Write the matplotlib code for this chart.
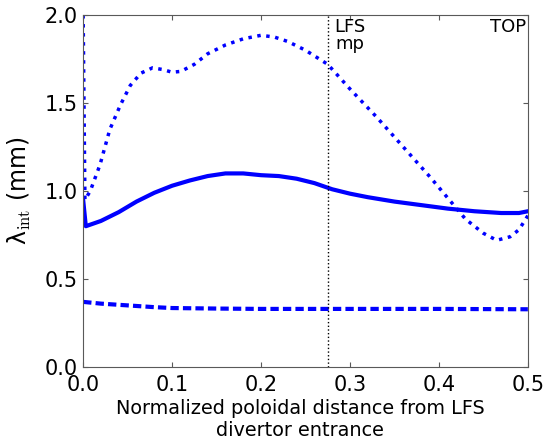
import numpy as np
import matplotlib
matplotlib.use('Agg')
import matplotlib.pyplot as plt

plt.rcParams['mathtext.fontset'] = 'cm'

# values
solid_x = [0.0, 0.0, 0.003, 0.02, 0.04, 0.06, 0.08, 0.10, 0.12, 0.14, 0.16, 0.18, 0.20,
           0.22, 0.24, 0.26, 0.28, 0.30, 0.32, 0.35, 0.38, 0.41, 0.44, 0.47, 0.49, 0.5]
solid_y = [0.95, 0.95, 0.80, 0.83, 0.88, 0.94, 0.99, 1.03, 1.06, 1.085, 1.10, 1.10, 1.09,
           1.085, 1.07, 1.045, 1.01, 0.985, 0.965, 0.94, 0.92, 0.90, 0.885, 0.875, 0.875, 0.885]

dot_x = [0.0, 0.002, 0.008, 0.019, 0.03, 0.042, 0.053, 0.065, 0.078, 0.09, 0.10, 0.11,
         0.125, 0.14, 0.16, 0.18, 0.20, 0.215, 0.23, 0.25, 0.275, 0.30, 0.33, 0.36,
         0.39, 0.415, 0.43, 0.45, 0.465, 0.48, 0.49, 0.5]
dot_y = [2.0, 0.95, 1.0, 1.15, 1.35, 1.49, 1.60, 1.67, 1.70, 1.69, 1.675, 1.68,
         1.72, 1.78, 1.83, 1.865, 1.885, 1.875, 1.85, 1.80, 1.72, 1.58, 1.42, 1.25,
         1.08, 0.93, 0.84, 0.76, 0.72, 0.74, 0.78, 0.86]

dash_x = [0.0, 0.02, 0.05, 0.08, 0.10, 0.15, 0.20, 0.30, 0.40, 0.5]
dash_y = [0.37, 0.36, 0.35, 0.34, 0.335, 0.332, 0.33, 0.33, 0.33, 0.328]

lfs_mp = 0.275

fig = plt.figure(figsize=(5.47, 4.43), dpi=100)
ax = fig.add_axes([0.152, 0.1716, 0.813, 0.7944])

ax.plot(solid_x, solid_y, color='blue', lw=3)
ax.plot(dot_x, dot_y, color='blue', lw=2.5, dashes=(1, 1.6))
ax.plot(dash_x, dash_y, color='blue', lw=3, dashes=(2, 1))
ax.axvline(lfs_mp, color='black', lw=1, ls=':')

ax.text(lfs_mp + 0.007, 1.985, 'LFS\nmp', fontsize=13, ha='left', va='top',
        linespacing=0.95, multialignment='center')
ax.text(0.4985, 1.985, 'TOP', fontsize=13, ha='right', va='top')

ax.set_xlim(0, 0.5)
ax.set_ylim(0, 2.0)
ax.set_xticks([0.0, 0.1, 0.2, 0.3, 0.4, 0.5])
ax.set_yticks([0.0, 0.5, 1.0, 1.5, 2.0])
ax.tick_params(direction='in', top=True, right=True, labelsize=15, color='0.35')
ax.tick_params(axis='x', pad=6)
ax.tick_params(axis='y', pad=4)
for s in ax.spines.values():
    s.set_color('0.35')

ax.set_xlabel('Normalized poloidal distance from LFS\ndivertor entrance', fontsize=13.9)
ax.xaxis.set_label_coords(0.4876, -0.092)
ax.set_ylabel(r'λ$_{\rm int}$ (mm)', fontsize=17, labelpad=8)

fig.savefig('out.png', dpi=100)
